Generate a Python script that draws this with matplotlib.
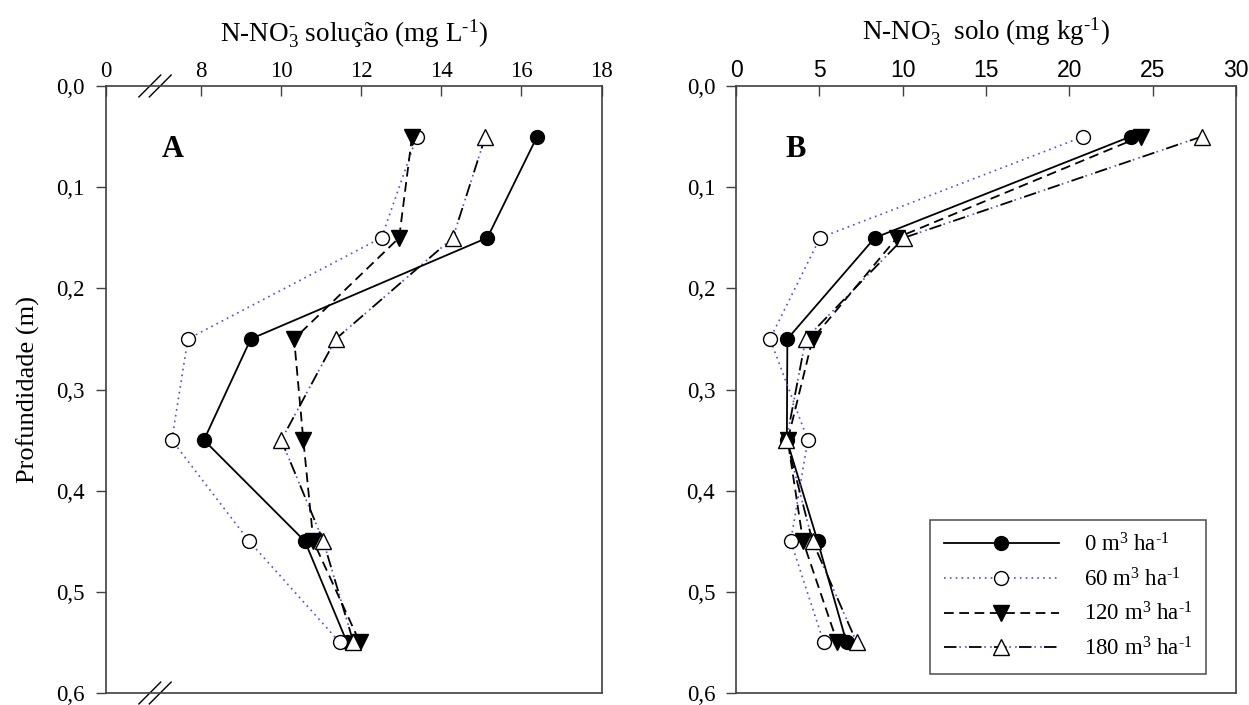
import matplotlib
matplotlib.use("Agg")
import matplotlib.pyplot as plt
from matplotlib.legend_handler import HandlerTuple

plt.rcParams['font.family'] = ['Liberation Serif', 'DejaVu Serif']
plt.rcParams['mathtext.fontset'] = 'custom'
plt.rcParams['mathtext.rm'] = 'Liberation Serif'
plt.rcParams['mathtext.it'] = 'Liberation Serif:italic'
plt.rcParams['lines.scale_dashes'] = False

# profundidade (m)
depth = [0.05, 0.15, 0.25, 0.35, 0.45, 0.55]

# N-NO3- na solução (mg/L)
sol_0 = [16.39, 15.15, 9.25, 8.08, 10.60, 11.65]
sol_60 = [13.39, 12.51, 7.68, 7.28, 9.21, 11.47]
sol_120 = [13.27, 12.95, 10.33, 10.56, 10.81, 11.97]
sol_180 = [15.10, 14.29, 11.37, 10.01, 11.06, 11.81]

# N-NO3- no solo (mg/kg)
solo_0 = [23.67, 8.33, 3.08, 3.05, 4.90, 6.63]
solo_60 = [20.84, 5.04, 2.04, 4.31, 3.28, 5.26]
solo_120 = [24.28, 9.65, 4.59, 3.10, 4.02, 6.08]
solo_180 = [27.94, 10.08, 4.18, 3.02, 4.59, 7.24]

labels = [r'0 m$^3$ ha$^{\text{-1}}$', r'60 m$^3$ ha$^{\text{-1}}$',
          r'120 m$^3$ ha$^{\text{-1}}$', r'180 m$^3$ ha$^{\text{-1}}$']

ytick_vals = [0.0, 0.1, 0.2, 0.3, 0.4, 0.5, 0.6]
ytick_labels = ['0,0', '0,1', '0,2', '0,3', '0,4', '0,5', '0,6']

BLUE = '#4a4aff'
MS = 10
TICK_FS = 16.5
LABEL_FS = 19.5


def draw_series(ax, x0, x60, x120, x180):
    h0, = ax.plot(x0, depth, color='black', lw=1.3, marker='o', ms=MS,
                  mfc='black', mec='black', zorder=3)
    h60, = ax.plot(x60, depth, color=BLUE, lw=1.2, ls=(0, (1.2, 3.0)),
                   marker='o', ms=MS, mfc='white', mec='black', mew=1.0, zorder=3)
    h120, = ax.plot(x120, depth, color='black', lw=1.3, ls=(0, (7, 4)),
                    marker='v', ms=MS + 1, mfc='black', mec='black', zorder=3)
    # traço-ponto-ponto: traços pretos com pontos azuis nos intervalos
    dots, = ax.plot(x180, depth, color=BLUE, lw=1.2, ls=(7, (1.2, 3, 1.2, 12.6)),
                    zorder=2)
    h180, = ax.plot(x180, depth, color='black', lw=1.3, ls=(0, (9, 9)),
                    marker='^', ms=MS + 1, mfc='white', mec='black', mew=1.0,
                    zorder=3)
    return [h0, h60, h120, (dots, h180)]


def style_axes(ax):
    ax.set_ylim(0.6, 0.0)
    ax.set_yticks(ytick_vals)
    ax.set_yticklabels(ytick_labels)
    ax.xaxis.set_ticks_position('top')
    ax.xaxis.set_label_position('top')
    ax.tick_params(axis='x', direction='in', length=7, width=1, pad=3,
                   labelsize=TICK_FS, color='#404040')
    ax.tick_params(axis='y', direction='out', length=7, width=1, pad=8,
                   labelsize=TICK_FS, color='#404040')
    for s in ax.spines.values():
        s.set_color('#404040')
        s.set_linewidth(1.2)


fig = plt.figure(figsize=(12.49, 7.05), dpi=100)
axA = fig.add_axes([0.0846, 0.0170, 0.3971, 0.8610])
axB = fig.add_axes([0.5893, 0.0170, 0.4003, 0.8610])

# painel A, eixo com quebra entre 0 e 8
draw_series(axA, sol_0, sol_60, sol_120, sol_180)
style_axes(axA)
x_left = 5.63
axA.set_xlim(x_left, 18)
axA.set_xticks([x_left, 8, 10, 12, 14, 16, 18])
axA.set_xticklabels(['0', '8', '10', '12', '14', '16', '18'])
axA.set_xlabel(r'N-NO$_3^{\text{-}}$ solução (mg L$^{\text{-1}}$)', fontsize=LABEL_FS,
               labelpad=14)
axA.set_ylabel('Profundidade (m)', fontsize=19, labelpad=12)
axA.text(0.135, 0.895, 'A', transform=axA.transAxes, fontsize=22,
         fontweight='bold', ha='center', va='center')

for yb in (0.0, 1.0):
    for xc in (0.089, 0.110):
        axA.plot([xc - 0.022, xc + 0.022], [yb - 0.018, yb + 0.018],
                 transform=axA.transAxes, color='black', lw=1.0, clip_on=False)

# painel B
handles = draw_series(axB, solo_0, solo_60, solo_120, solo_180)
style_axes(axB)
axB.set_xlim(0, 30)
axB.set_xticks([0, 5, 10, 15, 20, 25, 30])
for lab in axB.get_xticklabels():
    lab.set_fontfamily('Liberation Sans')
axB.set_xlabel(r'N-NO$_3^{\text{-}}$  solo (mg kg$^{\text{-1}}$)', fontsize=LABEL_FS,
               labelpad=14)
axB.text(0.119, 0.895, 'B', transform=axB.transAxes, fontsize=22,
         fontweight='bold', ha='center', va='center')

leg = axB.legend(handles, labels, loc='lower right', bbox_to_anchor=(0.94, 0.031),
                 fontsize=16.5, frameon=True, fancybox=False, edgecolor='#303030',
                 handlelength=5.0, handletextpad=1.1, borderpad=0.6,
                 labelspacing=0.5, numpoints=1, borderaxespad=0,
                 handler_map={tuple: HandlerTuple(ndivide=1, pad=0)})
leg.get_frame().set_linewidth(1.2)

fig.savefig('out.png', dpi=100, facecolor='white')
